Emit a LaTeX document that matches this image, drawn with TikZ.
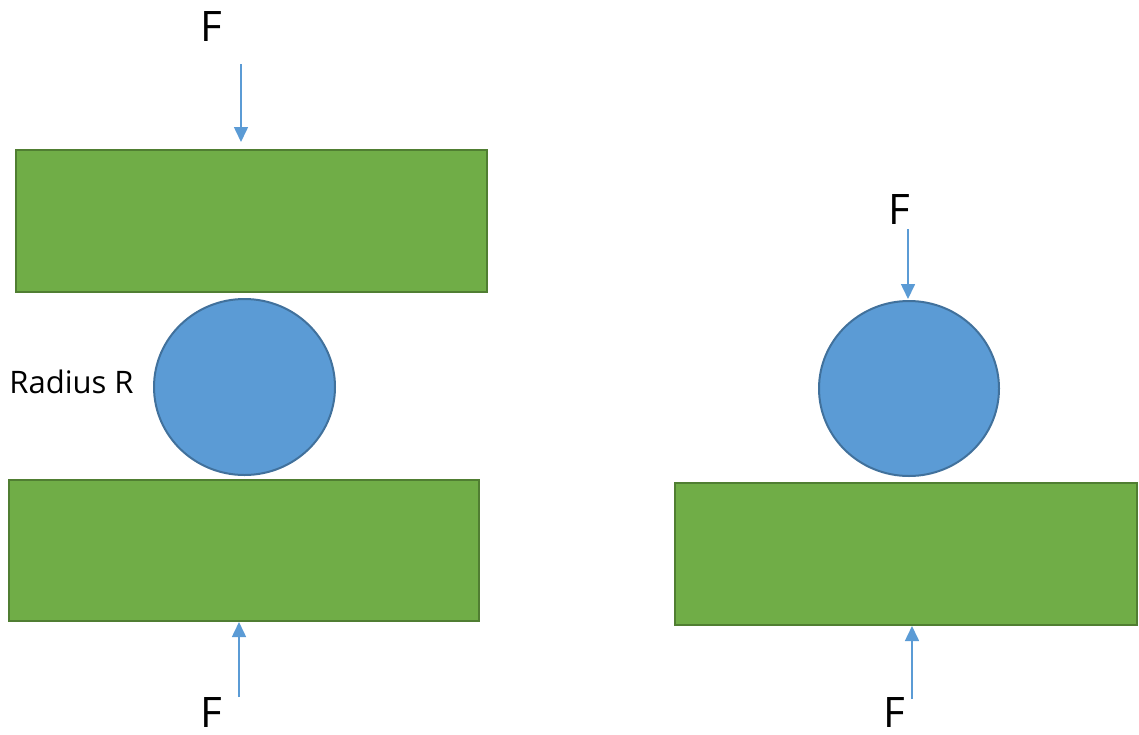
\documentclass[tikz,border=0pt]{standalone}
\usepackage{fontspec}
\setmainfont{Open Sans}
\usetikzlibrary{shapes.geometric,arrows.meta}
\definecolor{gfill}{HTML}{70AD47}
\definecolor{gline}{HTML}{507E32}
\definecolor{bfill}{HTML}{5B9BD5}
\definecolor{bline}{HTML}{41719C}
\definecolor{arrc}{HTML}{5B9BD5}
\tikzset{
  plate/.style={draw=gline, fill=gfill, line width=2pt, inner sep=0pt, outer sep=0pt},
  ball/.style={ellipse, draw=bline, fill=bfill, line width=2pt, inner sep=0pt, outer sep=0pt},
  force/.style={draw=arrc, line width=1.6pt, -{Triangle[width=14pt,length=15pt]}},
  flabel/.style={inner sep=0pt, font=\fontsize{42}{42}\selectfont},
  rlabel/.style={inner sep=0pt, font=\fontsize{31}{31}\selectfont}
}
\begin{document}
\begin{tikzpicture}[x=1pt,y=-1pt]
\useasboundingbox (0,0) rectangle (1139,734);
% left assembly
\node[plate, minimum width=471pt, minimum height=142pt] (top) at (251.5,221) {};
\node[ball, minimum width=181pt, minimum height=176pt] (lball) at (244.5,387) {};
\node[plate, minimum width=470pt, minimum height=141pt] (bot) at (244,550.5) {};
% right assembly
\node[ball, minimum width=180pt, minimum height=175pt] (rball) at (909,388.5) {};
\node[plate, minimum width=462pt, minimum height=142pt] (rbot) at (906,554) {};
% labels
\node[flabel] (f1) at (211,27) {F};
\node[flabel] (f2) at (211,712) {F};
\node[flabel] (f3) at (899.5,210) {F};
\node[flabel] (f4) at (894.5,712) {F};
\node[rlabel] (rr) at (71.5,381.5) {Radius R};
% arrows
\coordinate (a1s) at (241,64);
\coordinate (a1e) at (241,142);
\coordinate (a2s) at (239,697);
\coordinate (a2e) at (239,622);
\coordinate (a3s) at (908,229);
\coordinate (a3e) at (908,299);
\coordinate (a4s) at (912,699);
\coordinate (a4e) at (912,626);
\draw[force] (a1s) -- (a1e);
\draw[force] (a2s) -- (a2e);
\draw[force] (a3s) -- (a3e);
\draw[force] (a4s) -- (a4e);
\end{tikzpicture}
\end{document}
